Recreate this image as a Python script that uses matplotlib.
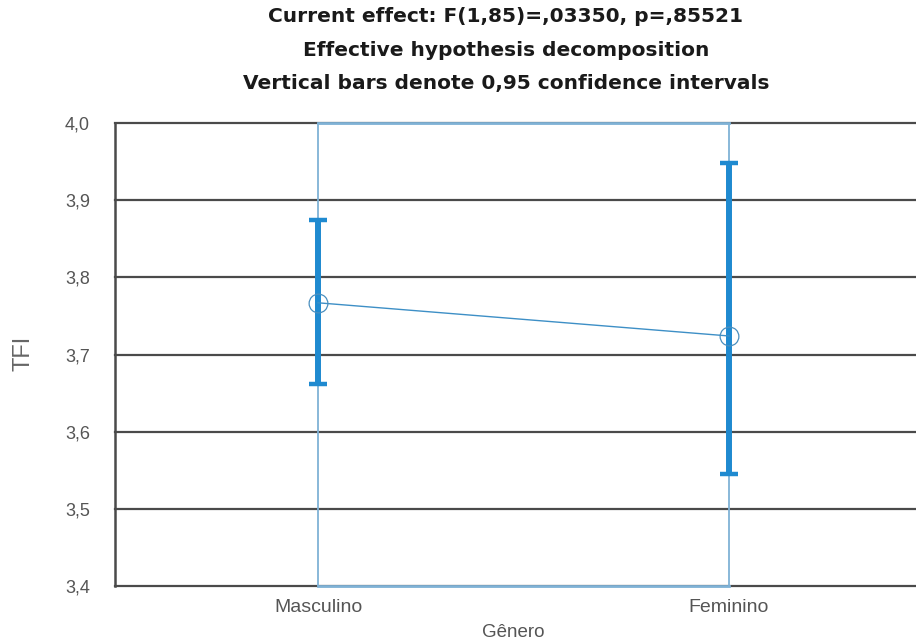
import matplotlib
matplotlib.use("Agg")
import matplotlib.pyplot as plt

plt.rcParams['font.family'] = ['Liberation Sans', 'DejaVu Sans']

# Data: means and 95% confidence limits of TFI by gender
categories = ["Masculino", "Feminino"]
means = [3.767, 3.724]
ci_lower = [3.662, 3.545]
ci_upper = [3.874, 3.948]
y_ticks = [3.4, 3.5, 3.6, 3.7, 3.8, 3.9, 4.0]
y_tick_labels = ["3,4", "3,5", "3,6", "3,7", "3,8", "3,9", "4,0"]
title_lines = [
    "Current effect: F(1,85)=,03350, p=,85521",
    "Effective hypothesis decomposition",
    "Vertical bars denote 0,95 confidence intervals",
]

W, H = 916, 642
fig = plt.figure(figsize=(W / 100, H / 100), dpi=100)
left_px, right_px, top_px, bottom_px = 115, 932, 123, 586
ax = fig.add_axes([left_px / W, (H - bottom_px) / H,
                   (right_px - left_px) / W, (bottom_px - top_px) / H])
ax.set_facecolor("white")

x = list(range(len(categories)))
ax.set_xlim(-0.494, 1.494)
ax.set_ylim(3.4, 4.0)

grid_col = "#4a4a4a"
box_col = "#7fb2d6"
bar_col = "#1f8ad0"
text_col = "#555555"

# horizontal grid lines across the whole plot
for t in y_ticks:
    ax.axhline(t, color=grid_col, lw=1.6, zorder=1, clip_on=False)

# category box: light-blue verticals and top/bottom edges
for xi in x:
    ax.axvline(xi, color=box_col, lw=1.3, zorder=2)
ax.plot([x[0], x[-1]], [4.0, 4.0], color=box_col, lw=2.0, zorder=2, clip_on=False)
ax.plot([x[0], x[-1]], [3.4, 3.4], color=box_col, lw=2.0, zorder=2, clip_on=False)

# confidence intervals
yerr = [[m - lo for m, lo in zip(means, ci_lower)],
        [hi - m for m, hi in zip(means, ci_upper)]]
ax.errorbar(x, means, yerr=yerr, fmt="none", ecolor=bar_col, elinewidth=4.3,
            capsize=6.2, capthick=3.2, zorder=3)

# means joined by a thin line, open circle markers
ax.plot(x, means, color="#3d8fc6", lw=1.0, zorder=4,
        marker="o", markersize=13.5, markerfacecolor="none",
        markeredgecolor="#4a8fbf", markeredgewidth=0.9)

for s in ["top", "right", "bottom"]:
    ax.spines[s].set_visible(False)
ax.spines["left"].set_color(grid_col)
ax.spines["left"].set_linewidth(1.8)

ax.set_yticks(y_ticks)
ax.set_yticklabels(y_tick_labels, color=text_col, fontsize=13)
ax.tick_params(axis="y", length=0, pad=18)
ax.set_xticks(x)
ax.set_xticklabels(categories, color=text_col, fontsize=14)
ax.tick_params(axis="x", length=0, pad=9)

ax.set_xlabel("Gênero", color=text_col, fontsize=13.5)
ax.xaxis.set_label_coords((513 - left_px) / (right_px - left_px), -0.083)
fig.text(24 / W, 1 - 353 / H, "TFI", rotation=90, ha="center", va="center",
         color="#666666", fontsize=17, fontweight="light")

for i, line in enumerate(title_lines):
    fig.text(506 / W, 1 - (17 + 33 * i) / H, line, ha="center", va="center",
             fontsize=14.5, fontweight="bold", color="#1a1a1a",
             family="DejaVu Sans")

fig.savefig("out.png", dpi=100, facecolor="white")
